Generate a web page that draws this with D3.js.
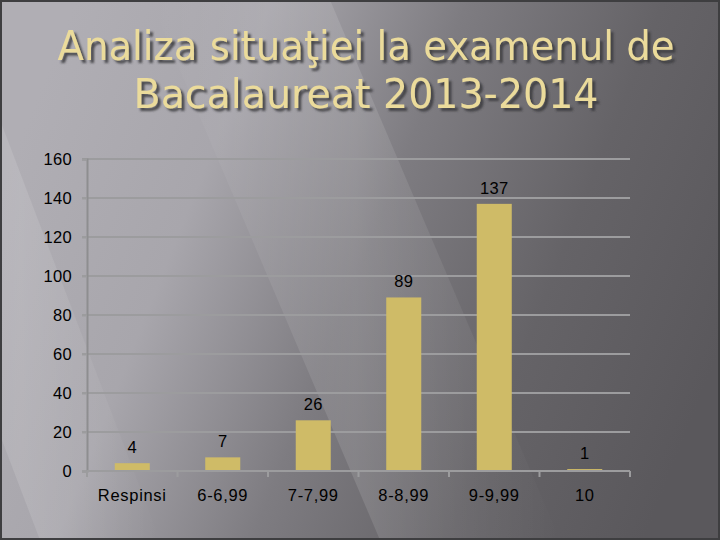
<!DOCTYPE html>
<html><head><meta charset="utf-8">
<script src="https://cdn.jsdelivr.net/npm/d3@7"></script>
<style>html,body{margin:0;padding:0;background:#666}svg{display:block}</style>
</head><body>
<script>
const categories = ["Respinsi", "6-6,99", "7-7,99", "8-8,99", "9-9,99", "10"];
const values = [4, 7, 26, 89, 137, 1];
const yTicks = [0, 20, 40, 60, 80, 100, 120, 140, 160];
const titleLines = ["Analiza situaţiei la examenul de", "Bacalaureat 2013-2014"];

(function () {
const W = 720, H = 540;
const svg = d3.select("body").append("svg").attr("width", W).attr("height", H);
const defs = svg.append("defs");

const bg = defs.append("linearGradient").attr("id", "bg")
  .attr("x1", "0").attr("y1", "0.35").attr("x2", "1").attr("y2", "0.65");
[["0", "#b0aeb4"], ["0.25", "#a8a6ac"], ["0.5", "#7e7c81"], ["0.75", "#656367"], ["1", "#5a585c"]]
  .forEach(([o, c]) => bg.append("stop").attr("offset", o).attr("stop-color", c));

const band = defs.append("linearGradient").attr("id", "band")
  .attr("x1", "0").attr("y1", "0").attr("x2", "1").attr("y2", "0");
[["0", 0], ["0.5", 0.12], ["1", 0]]
  .forEach(([o, a]) => band.append("stop").attr("offset", o).attr("stop-color", "#fff").attr("stop-opacity", a));

const shadow = defs.append("filter").attr("id", "shadow").attr("x", "-10%").attr("y", "-20%").attr("width", "120%").attr("height", "150%");
shadow.append("feDropShadow").attr("dx", 3).attr("dy", 3).attr("stdDeviation", 0.8)
  .attr("flood-color", "#3a3a3c").attr("flood-opacity", 0.85);

svg.append("rect").attr("width", W).attr("height", H).attr("fill", "url(#bg)");
svg.append("polygon").attr("points", "150,0 330,0 560,540 380,540").attr("fill", "url(#band)");
svg.append("polygon").attr("points", "-120,120 0,120 160,540 40,540").attr("fill", "url(#band)");

// title
const title = svg.append("g").attr("font-family", "'DejaVu Sans Condensed', 'DejaVu Sans', sans-serif")
  .attr("font-size", 41).attr("text-anchor", "middle").attr("filter", "url(#shadow)");
const tl = [{t: titleLines[0], y: 60, len: 617}, {t: titleLines[1], y: 108, len: 465}];
tl.forEach(d => {
  title.append("text").attr("x", 366).attr("y", d.y).attr("fill", "#ebdb9b")
    .attr("textLength", d.len).attr("lengthAdjust", "spacingAndGlyphs").text(d.t);
});

const pl = 87, pr = 630, pt = 159, pb = 471;
const x = d3.scaleBand().domain(categories).range([pl, pr]).paddingInner(0.613).paddingOuter(0.3065);
const xb = d3.scaleBand().domain(categories).range([pl, pr]);
const y = d3.scaleLinear().domain([0, 160]).range([pb, pt]);

const font = "'Liberation Sans', Arial, sans-serif";
const gridColor = "#9c9c9e";
// gridlines
svg.append("g").selectAll("line").data(yTicks.filter(t => t > 0)).join("line")
  .attr("x1", pl - 5).attr("x2", pr).attr("y1", d => y(d)).attr("y2", d => y(d))
  .attr("stroke", gridColor).attr("stroke-width", 2);

// y axis
const yAxis = svg.append("g").attr("transform", `translate(${pl},0)`)
  .call(d3.axisLeft(y).tickValues(yTicks).tickSize(5).tickPadding(10));
yAxis.select(".domain").attr("stroke", "#8e8e90").attr("stroke-width", 2);
yAxis.selectAll(".tick line").attr("stroke", gridColor).attr("stroke-width", 2);
yAxis.selectAll("text").attr("font-family", font).attr("font-size", 16.5).attr("letter-spacing", 0.3).attr("fill", "#000");

// bars
svg.append("g").selectAll("rect").data(values).join("rect")
  .attr("x", (d, i) => x(categories[i])).attr("width", x.bandwidth())
  .attr("y", d => y(d)).attr("height", d => pb - y(d)).attr("fill", "#cfbb67");

// x axis
const xAxis = svg.append("g").attr("transform", `translate(0,${pb})`)
  .call(d3.axisBottom(xb).tickSize(0).tickPadding(18));
xAxis.select(".domain").remove();
xAxis.append("line").attr("x1", pl).attr("x2", pr).attr("stroke", gridColor).attr("stroke-width", 2);
xAxis.selectAll(".bnd").data(d3.range(categories.length + 1)).join("line").attr("class", "bnd")
  .attr("x1", i => pl + i * xb.bandwidth()).attr("x2", i => pl + i * xb.bandwidth())
  .attr("y1", 0).attr("y2", 6).attr("stroke", gridColor).attr("stroke-width", 2);
xAxis.selectAll(".tick text").attr("font-family", font).attr("font-size", 16.5).attr("letter-spacing", 0.7).attr("fill", "#000");

// data labels
svg.append("g").selectAll("text").data(values).join("text")
  .attr("x", (d, i) => x(categories[i]) + x.bandwidth() / 2)
  .attr("y", d => y(d) - 10)
  .attr("text-anchor", "middle").attr("font-family", font)
  .attr("font-size", 16.5).attr("letter-spacing", 0.3).attr("fill", "#000").text(d => d);

// frame
svg.append("rect").attr("x", 1).attr("y", 1).attr("width", W - 2).attr("height", H - 2)
  .attr("fill", "none").attr("stroke", "#3e3e40").attr("stroke-width", 2);
})();
</script>
</body></html>
